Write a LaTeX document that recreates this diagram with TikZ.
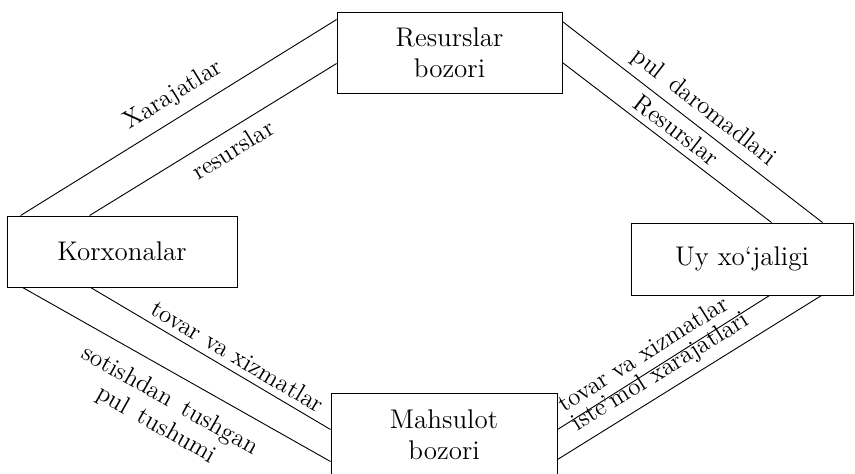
\documentclass[tikz,border=0pt]{standalone}
\usetikzlibrary{calc}
\begin{document}
\begin{tikzpicture}[x=0.5pt,y=-0.5pt,
    bozor/.style={draw,line width=0.016cm,align=center,inner sep=0pt,font=\fontsize{13.5}{15.5}\selectfont},
    oqim/.style={line width=0.016cm},
    yozuv/.style={sloped,align=center,font=\fontsize{12.5}{14}\selectfont}]
\clip (0,0) rectangle (855,474);

% Drawing box Resurslar bozori
\node [bozor,minimum width=112.5pt,minimum height=40.5pt] (resbozor) at (449.5,52.5) {Resurslar\\bozori};

% Drawing box Korxonalar
\node [bozor,minimum width=115pt,minimum height=35.5pt] (korxona) at (122,251.5) {Korxonalar};

% Drawing box Uy xo`jaligi
\node [bozor,minimum width=111pt,minimum height=36pt] (uyxojalik) at (742,259) {Uy xo`jaligi};

% Drawing box Mahsulot bozori (bottom edge is cut off)
\node [bozor,minimum width=113pt,minimum height=42pt] (mahbozor) at (444,435) {Mahsulot\\bozori};

% Drawing lines Korxonalar - Resurslar bozori
\draw [oqim] ($(korxona.north west)+(14,0)$) -- node [yozuv,above=1.5pt,pos=0.52] {Xarajatlar} ($(resbozor.north west)+(0,8)$);
\draw [oqim] ($(korxona.north west)+(83,0)$) -- node [yozuv,below=1.5pt,pos=0.54] {resurslar} ($(resbozor.north west)+(0,52)$);

% Drawing lines Resurslar bozori - Uy xo`jaligi
\draw [oqim] ($(resbozor.north east)+(0,10)$) -- node [yozuv,above,pos=0.5] {pul\hspace{0.5em}daromadlari} ($(uyxojalik.north west)+(192,0)$);
\draw [oqim] ($(resbozor.north east)+(0,51)$) -- node [yozuv,above,pos=0.5] {Resurslar} ($(uyxojalik.north west)+(141,0)$);

% Drawing lines Korxonalar - Mahsulot bozori
\draw [oqim] ($(korxona.south west)+(84,0)$) -- node [yozuv,above,pos=0.58] {tovar va xizmatlar} ($(mahbozor.north west)+(0,37)$);
\draw [oqim] ($(korxona.south west)+(16,0)$) -- node [yozuv,below=4pt,pos=0.52] {sotishdan\hspace{0.5em}tushgan\\pul\hspace{0.5em}tushumi} ($(mahbozor.north west)+(0,69)$);

% Drawing lines Mahsulot bozori - Uy xo`jaligi
\draw [oqim] ($(mahbozor.north east)+(0,37)$) -- node [yozuv,above=1.5pt,pos=0.45] {tovar va xizmatlar} ($(uyxojalik.south west)+(139,0)$);
\draw [oqim] ($(mahbozor.north east)+(0,67)$) -- node [yozuv,above=0.5pt,pos=0.43] {iste'mol xarajatlari} ($(uyxojalik.south west)+(191,0)$);
\end{tikzpicture}
\end{document}
